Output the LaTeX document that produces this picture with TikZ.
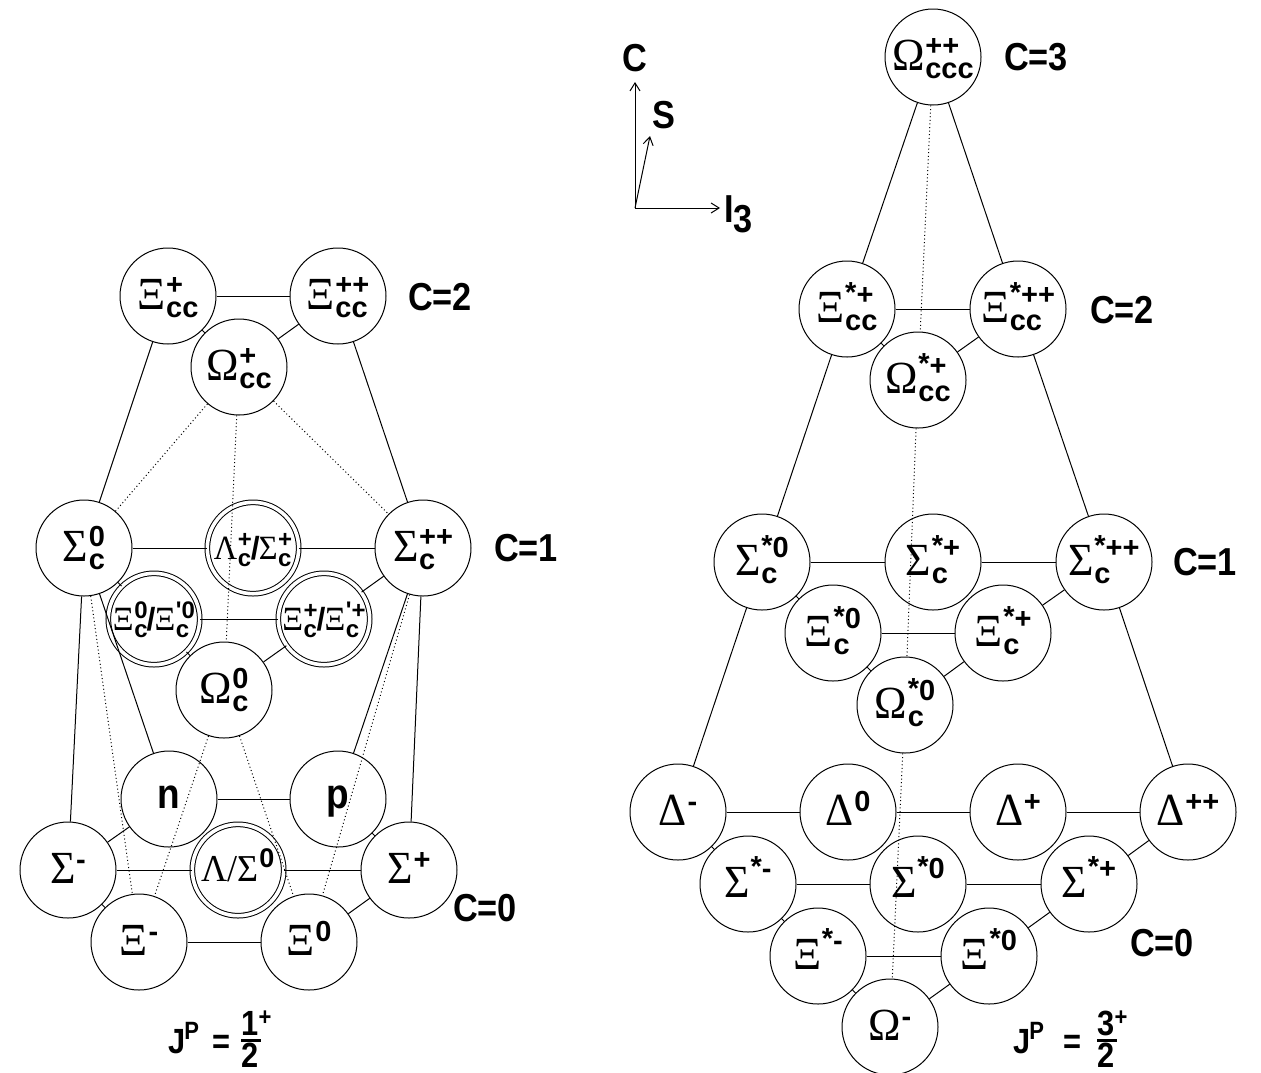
\documentclass[tikz,border=0pt]{standalone}
\usepackage{fontspec}
\usepackage{graphicx}
\usetikzlibrary{arrows.meta}
\newfontfamily\grk[FakeStretch=0.95]{Liberation Serif}
\newfontfamily\hvb[FakeStretch=0.88]{Liberation Sans}
\newfontfamily\hvn{Liberation Sans}
\newcommand\gksz{23}
\newcommand\smsz{14.5}
\newcommand\gkf{\grk\fontsize{\gksz}{\gksz}\selectfont}
\newcommand\smf{\hvn\bfseries\fontsize{\smsz}{\smsz}\selectfont}
\newcommand\slf{\hvn\bfseries\fontsize{16}{16}\selectfont}
\newcommand\lbf{\hvb\bfseries\fontsize{19.5}{20}\selectfont}
\newcommand\axf{\hvb\bfseries\fontsize{19.5}{20}\selectfont}
\newcommand\nuf{\hvb\bfseries\fontsize{21}{21}\selectfont}
\newcommand\jpf{\hvb\bfseries\fontsize{17.5}{18}\selectfont}
\newcommand\jps{\hvb\bfseries\fontsize{12.5}{13}\selectfont}
\newcommand\st{\raisebox{1pt}{*}}
\newcommand\prm{\char39\relax}
\newcommand\sls{\kern-0.5pt{\slf/}\kern-0.5pt}
\newcommand\dbl{\def\gksz{17}\def\smsz{12}}
% hadron with superscript and subscript: #4 raise of sup, #5 raise of sub
\newcommand\hdg[5]{\mbox{{\gkf #1}\kern0.3pt%
  \setbox0\hbox{\smf #2}\setbox2\hbox{\smf #3}%
  \dimen0=\wd0 \ifdim\wd2>\dimen0 \dimen0=\wd2 \fi
  \rlap{\raisebox{#4}{\box0}}\rlap{\raisebox{#5}{\box2}}\kern\dimen0}}
\newcommand\hd[3]{\hdg{#1}{#2}{#3}{7.5pt}{-4pt}}
\newcommand\hdr[3]{\hdg{#1}{#2}{#3}{9pt}{-4pt}}
\newcommand\hdb[3]{\hdg{#1}{#2}{#3}{6pt}{-3.5pt}}
% hadron with superscript only
\newcommand\hs[2]{\mbox{{\gkf #1}\kern0.3pt\raisebox{7pt}{\smf #2}}}
\newcommand\hsr[2]{\mbox{{\gkf #1}\kern0.3pt\raisebox{9.5pt}{\smf #2}}}
% J^P label: #1 numerator, #2 offset of '=', #3 offset of fraction
\newcommand\jpl[3]{%
  \rlap{\jpf J}%
  \rlap{\kern8pt\raisebox{7pt}{\jps P}}%
  \rlap{\kern#2{\jpf =}}%
  \rlap{\kern#3\raisebox{9pt}{\jpf #1}\raisebox{14pt}{\jps +}}%
  \rlap{\kern#3\raisebox{5.3pt}{\rule{10pt}{1.8pt}}}%
  \kern#3\raisebox{-7pt}{\jpf 2}}
\begin{document}
\begin{tikzpicture}[x=0.5pt,y=-0.5pt,
  hc/.style={circle, draw, line width=0.5pt, inner sep=0pt, minimum size=48pt,
             text height=15pt, text depth=2pt},
  hdd/.style={circle, draw, double, line width=0.5pt, double distance=1.8pt,
             inner sep=0pt, minimum size=45.7pt, text height=13pt, text depth=2pt},
  nuc/.style={hc, font=\nuf, text height=10pt, text depth=1pt},
  ln/.style={line width=0.5pt},
  dt/.style={line width=0.5pt, dash pattern=on 0.5pt off 1.3pt},
  lab/.style={font=\lbf, inner sep=0pt},
  axl/.style={font=\axf, inner sep=0pt},
  ax/.style={line width=0.5pt, -{Straight Barb[length=4pt,width=5pt]}}]
\useasboundingbox (0,0) rectangle (1261,1072);

% ---------------- left: J^P = 1/2+ ----------------
\node[hc] (Xcc1) at (168,296) {\hd{Ξ}{+}{cc}};
\node[hc] (Xcc2) at (338,296) {\hd{Ξ}{++}{cc}};
\node[hc] (Occ)  at (239,367) {\hd{Ω}{+}{cc}};
\node[hc] (Sc0)  at (84,548)  {\hd{Σ}{0}{c}};
\node[hdd] (LSc) at (253,548) {\dbl\hdb{Λ}{+}{c}\sls\hdb{Σ}{+}{c}};
\node[hc] (Sc2)  at (423,548) {\hd{Σ}{++}{c}};
\node[hdd] (Xc0) at (154,619) {\dbl\hdb{Ξ}{0}{c}\sls\hdb{Ξ}{\prm0}{c}};
\node[hdd] (Xc1) at (324,619) {\dbl\hdb{Ξ}{+}{c}\sls\hdb{Ξ}{\prm+}{c}};
\node[hc] (Oc0)  at (224,690) {\hd{Ω}{0}{c}};
\node[nuc] (n)   at (169,799) {n};
\node[nuc] (p)   at (338,799) {p};
\node[hc] (Sm)   at (68,870)  {\hs{Σ}{-}};
\node[hdd] (LS0) at (238,870) {\def\gksz{19}\def\smsz{13.5}{\gkf Λ/}\hs{Σ}{0}};
\node[hc] (Sp)   at (409,870) {\hs{Σ}{+}};
\node[hc] (Xm)   at (139,942) {\hs{Ξ}{-}};
\node[hc] (X0)   at (309,942) {\hs{Ξ}{0}};

\draw[ln] (Xcc1) -- (Xcc2);
\draw[ln] (Xcc1) -- (Occ);
\draw[ln] (Occ) -- (Xcc2);
\draw[ln] (Xcc1) -- (Sc0);
\draw[ln] (Xcc2) -- (Sc2);
\draw[ln] (Sc0) -- (LSc);
\draw[ln] (LSc) -- (Sc2);
\draw[ln] (Sc0) -- (Xc0);
\draw[ln] (Sc2) -- (Xc1);
\draw[ln] (Xc0) -- (Xc1);
\draw[ln] (Xc0) -- (Oc0);
\draw[ln] (Oc0) -- (Xc1);
\draw[ln] (Sc0) -- (Sm);
\draw[ln] (Sc2) -- (Sp);
\draw[ln] (Sc0) -- (n);
\draw[ln] (Sc2) -- (p);
\draw[ln] (n) -- (p);
\draw[ln] (n) -- (Sm);
\draw[ln] (p) -- (Sp);
\draw[ln] (Sm) -- (LS0);
\draw[ln] (LS0) -- (Sp);
\draw[ln] (Sm) -- (Xm);
\draw[ln] (Xm) -- (X0);
\draw[ln] (X0) -- (Sp);
\draw[dt] (Occ) -- (Sc0);
\draw[dt] (Occ) -- (Oc0);
\draw[dt] (Occ) -- (Sc2);
\draw[dt] (Sc0) -- (Xm);
\draw[dt] (Sc2) -- (X0);
\draw[dt] (Oc0) -- (Xm);
\draw[dt] (Oc0) -- (X0);

\node[lab] (lC2) at (440,297) {C=2};
\node[lab] (lC1) at (526,548) {C=1};
\node[lab] (lC0) at (485,908) {C=0};
\node[inner sep=0pt, anchor=base west] (jpl) at (168,1053) {\jpl{1}{22pt}{36.5pt}};

% ---------------- axes ----------------
\coordinate (O) at (635,208);
\coordinate (Ct) at (635,82);
\coordinate (St) at (650,136);
\coordinate (It) at (720,208);
\draw[ax] (O) -- (Ct);
\draw[ax] (O) -- (St);
\draw[ax] (O) -- (It);
\node[axl] (aC) at (635,58) {C};
\node[axl] (aS) at (664,115) {S};
\node[axl, anchor=base west] (aI) at (724,222) {I\raisebox{-5pt}{3}};

% ---------------- right: J^P = 3/2+ ----------------
\node[hc] (Occc) at (933,57)  {\hd{Ω}{++}{ccc}};
\node[hc] (Xs1)  at (847,309) {\hdr{Ξ}{\st+}{cc}};
\node[hc] (Xs2)  at (1018,309) {\hdr{Ξ}{\st++}{cc}};
\node[hc] (Os)   at (918,380) {\hdr{Ω}{\st+}{cc}};
\node[hc] (Ts0)  at (762,562) {\hdr{Σ}{\st0}{c}};
\node[hc] (Ts1)  at (933,562) {\hdr{Σ}{\st+}{c}};
\node[hc] (Ts2)  at (1104,562) {\hdr{Σ}{\st++}{c}};
\node[hc] (Ys0)  at (833,633) {\hdr{Ξ}{\st0}{c}};
\node[hc] (Ys1)  at (1003,633) {\hdr{Ξ}{\st+}{c}};
\node[hc] (Oc)   at (905,705) {\hdr{Ω}{\st0}{c}};
\node[hc] (Dm)   at (678,812) {\hs{Δ}{-}};
\node[hc] (D0)   at (848,812) {\hs{Δ}{0}};
\node[hc] (Dp)   at (1018,812) {\hs{Δ}{+}};
\node[hc] (Dpp)  at (1188,812) {\hs{Δ}{++}};
\node[hc] (Ssm)  at (748,884) {\hsr{Σ}{\st-}};
\node[hc] (Ss0)  at (918,884) {\hsr{Σ}{\st0}};
\node[hc] (Ssp)  at (1089,884) {\hsr{Σ}{\st+}};
\node[hc] (Xsm)  at (818,956) {\hsr{Ξ}{\st-}};
\node[hc] (Xs0)  at (989,956) {\hsr{Ξ}{\st0}};
\node[hc] (Om)   at (890,1027) {\hs{Ω}{-}};

\draw[ln] (Occc) -- (Xs1);
\draw[ln] (Occc) -- (Xs2);
\draw[ln] (Xs1) -- (Xs2);
\draw[ln] (Xs1) -- (Os);
\draw[ln] (Os) -- (Xs2);
\draw[ln] (Xs1) -- (Ts0);
\draw[ln] (Xs2) -- (Ts2);
\draw[ln] (Ts0) -- (Ts1);
\draw[ln] (Ts1) -- (Ts2);
\draw[ln] (Ts0) -- (Ys0);
\draw[ln] (Ts2) -- (Ys1);
\draw[ln] (Ys0) -- (Ys1);
\draw[ln] (Ys0) -- (Oc);
\draw[ln] (Oc) -- (Ys1);
\draw[ln] (Ts0) -- (Dm);
\draw[ln] (Ts2) -- (Dpp);
\draw[ln] (Dm) -- (D0);
\draw[ln] (D0) -- (Dp);
\draw[ln] (Dp) -- (Dpp);
\draw[ln] (Dm) -- (Ssm);
\draw[ln] (Dpp) -- (Ssp);
\draw[ln] (Ssm) -- (Ss0);
\draw[ln] (Ss0) -- (Ssp);
\draw[ln] (Ssm) -- (Xsm);
\draw[ln] (Ssp) -- (Xs0);
\draw[ln] (Xsm) -- (Xs0);
\draw[ln] (Xsm) -- (Om);
\draw[ln] (Om) -- (Xs0);
\draw[dt] (Occc) -- (Os);
\draw[dt] (Os) -- (Oc);
\draw[dt] (Oc) -- (Om);

\node[lab] (rC3) at (1036,57) {C=3};
\node[lab] (rC2) at (1122,310) {C=2};
\node[lab] (rC1) at (1205,562) {C=1};
\node[lab] (rC0) at (1162,943) {C=0};
\node[inner sep=0pt, anchor=base west] (jpr) at (1013,1053) {\jpl{3}{25pt}{42pt}};
\end{tikzpicture}
\end{document}
